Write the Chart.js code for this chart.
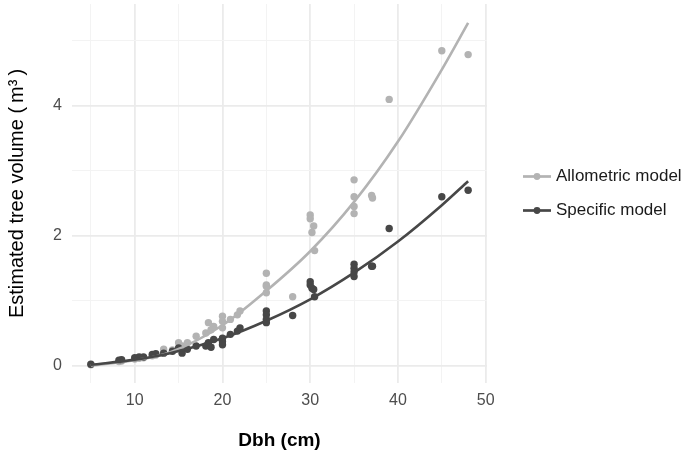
<!DOCTYPE html>
<html>
<head>
<meta charset="utf-8">
<script src="https://cdn.jsdelivr.net/npm/chart.js@4.4.1/dist/chart.umd.min.js"></script>
<style>
  html, body { margin: 0; padding: 0; background: #fff; }
  #c { display: block; }
</style>
</head>
<body>
<canvas id="c" width="685" height="455"></canvas>
<script>
// trees: dbh (cm) and the volume each model gives (m3)
const dbh        = [5, 8.2, 8.5, 10, 10.5, 11, 12, 12.4, 13.3, 14.3, 15, 15.4, 16, 17, 18.1, 18.4, 18.7, 19, 20, 20, 20, 20.9, 21.7, 22, 25, 25, 25, 25, 28, 30, 30, 30.2, 30.4, 30.5, 35, 35, 35, 35, 37, 37.1, 39, 45, 48];
const allometric = [0.01, 0.06, 0.07, 0.10, 0.11, 0.12, 0.15, 0.16, 0.25, 0.24, 0.35, 0.30, 0.35, 0.45, 0.50, 0.66, 0.55, 0.60, 0.76, 0.68, 0.58, 0.71, 0.78, 0.84, 1.42, 1.24, 1.22, 1.12, 1.06, 2.32, 2.26, 2.05, 2.15, 1.77, 2.86, 2.60, 2.45, 2.34, 2.62, 2.58, 4.10, 4.85, 4.79];
const specific   = [0.02, 0.08, 0.09, 0.12, 0.13, 0.13, 0.17, 0.18, 0.19, 0.22, 0.27, 0.19, 0.25, 0.30, 0.30, 0.35, 0.28, 0.40, 0.42, 0.37, 0.32, 0.48, 0.53, 0.58, 0.84, 0.78, 0.71, 0.66, 0.77, 1.29, 1.24, 1.19, 1.17, 1.06, 1.56, 1.50, 1.44, 1.37, 1.53, 1.53, 2.11, 2.60, 2.70];

// fitted curves
const fitDbh        = [5, 10, 14, 20, 25, 30, 35, 40, 45, 48];
const allometricFit = [0.0, 0.08, 0.2, 0.62, 1.15, 1.76, 2.52, 3.45, 4.56, 5.28];
const specificFit   = [0.01, 0.09, 0.19, 0.42, 0.69, 1.02, 1.43, 1.91, 2.47, 2.84];

const seriesNames = ['Allometric model', 'Specific model'];
const LIGHT = '#b3b3b3', DARK = '#474747';

const pts = (xs, ys) => xs.map((x, i) => ({x, y: ys[i]}));

Chart.defaults.font.family = '"Liberation Sans", Arial, sans-serif';

const legendRight = {
  id: 'legendRight',
  afterDraw(chart) {
    const ctx = chart.ctx;
    const rows = [{name: seriesNames[0], c: LIGHT, y: 176.5}, {name: seriesNames[1], c: DARK, y: 210.5}];
    ctx.save();
    rows.forEach(r => {
      ctx.strokeStyle = r.c; ctx.lineWidth = 2.7;
      ctx.beginPath(); ctx.moveTo(523, r.y); ctx.lineTo(551, r.y); ctx.stroke();
      ctx.fillStyle = r.c;
      ctx.beginPath(); ctx.arc(537, r.y, 3.4, 0, Math.PI * 2); ctx.fill();
      ctx.fillStyle = '#1a1a1a';
      ctx.font = '17px "Liberation Sans", Arial, sans-serif';
      ctx.textBaseline = 'middle';
      ctx.fillText(r.name, 556, r.y);
    });
    ctx.restore();
  }
};

const gridColor = major => c => (c.tick && c.tick.value % major === 0) ? '#ebebeb' : '#f3f3f3';
const gridWidth = major => c => (c.tick && c.tick.value % major === 0) ? 1.8 : 1;

new Chart(document.getElementById('c'), {
  type: 'scatter',
  data: {
    datasets: [
      { label: seriesNames[1] + ' fit', data: pts(fitDbh, specificFit), showLine: true, borderColor: DARK, borderWidth: 2.6, pointRadius: 0, cubicInterpolationMode: 'monotone' },
      { label: seriesNames[0] + ' fit', data: pts(fitDbh, allometricFit), showLine: true, borderColor: LIGHT, borderWidth: 2.6, pointRadius: 0, cubicInterpolationMode: 'monotone' },
      { label: seriesNames[1], data: pts(dbh, specific), backgroundColor: DARK, borderWidth: 0, pointRadius: 3.7 },
      { label: seriesNames[0], data: pts(dbh, allometric), backgroundColor: LIGHT, borderWidth: 0, pointRadius: 3.7 }
    ]
  },
  options: {
    responsive: false,
    animation: false,
    events: [],
    layout: { padding: { top: 3, right: 198, left: 0, bottom: 0 } },
    plugins: { legend: { display: false }, tooltip: { enabled: false } },
    scales: {
      x: {
        type: 'linear', min: 2.85, max: 50.15,
        border: { display: false },
        grid: { color: gridColor(10), lineWidth: gridWidth(10), drawTicks: false },
        ticks: { stepSize: 5, includeBounds: false, autoSkip: false, maxRotation: 0, padding: 8,
                 color: '#4d4d4d', font: { size: 16 }, callback: v => v % 10 === 0 ? v : '' },
        title: { display: true, text: 'Dbh (cm)', color: '#000', font: { size: 19, weight: 'bold' }, padding: { top: 0, bottom: 3 } },
        afterFit: s => { s.height = 72; s.paddingLeft = 0; s.paddingRight = 0; }
      },
      y: {
        type: 'linear', min: -0.27, max: 5.57,
        border: { display: false },
        grid: { color: gridColor(2), lineWidth: gridWidth(2), drawTicks: false },
        ticks: { stepSize: 1, includeBounds: false, padding: 10,
                 color: '#4d4d4d', font: { size: 16 }, callback: v => v % 2 === 0 ? v : '' },
        title: { display: true, text: 'Estimated tree volume (\u2009m³\u2009)', color: '#000', font: { size: 20 }, padding: { top: 5, bottom: 0 } },
        afterFit: s => { s.width = 72; s.paddingTop = 0; s.paddingBottom = 0; }
      }
    }
  },
  plugins: [legendRight]
});
</script>
</body>
</html>
